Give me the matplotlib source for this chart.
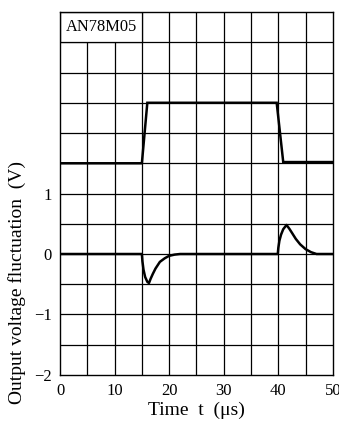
import numpy as np
import matplotlib
matplotlib.use("Agg")
import matplotlib.pyplot as plt
from matplotlib.patches import Rectangle

plt.rcParams['font.family'] = ['Liberation Serif', 'DejaVu Serif']

# input step (upper trace)
step_t = [0, 15, 16, 39.7, 40.9, 50]
step_v = [1.5, 1.5, 2.5, 2.5, 1.52, 1.52]

# output voltage fluctuation (lower trace)
out_t = [0, 15, 15.1, 15.3, 15.6, 16.0, 16.3, 16.6, 17.0, 17.5, 18.3, 19.2, 20.0, 21.0, 22.0,
         39.9, 40.0, 40.2, 40.5, 40.9, 41.5, 42.0, 42.5, 43.2, 44.0, 45.0, 46.0, 47.0, 50]
out_v = [0, 0, -0.12, -0.26, -0.38, -0.46, -0.48, -0.41, -0.33, -0.24, -0.13, -0.07, -0.03, -0.01, 0,
         0, 0.1, 0.22, 0.32, 0.41, 0.48, 0.42, 0.35, 0.25, 0.16, 0.08, 0.03, 0.0, 0]

x_ticks = [0, 10, 20, 30, 40, 50]
y_labels = {-2: "\u22122", -1: "\u22121", 0: "0", 1: "1"}

fig = plt.figure(figsize=(3.39, 4.24), dpi=100)
ax = fig.add_axes([0.177, 0.1156, 0.805, 0.856])

ax.set_xlim(0, 50)
ax.set_ylim(-2, 4)

# grid every 5 us and 0.5 V
for t in np.arange(5, 50, 5):
    ax.axvline(t, color='black', lw=0.9, zorder=1)
for v in np.arange(-1.5, 4, 0.5):
    ax.axhline(v, color='black', lw=0.9, zorder=1)

# label box in the top-left cell
ax.add_patch(Rectangle((0, 3.5), 15, 0.5, facecolor='white', edgecolor='black', lw=0.9, zorder=2))
ax.text(1.0, 3.75, "AN78M05", va='center', ha='left', fontsize=11.8, zorder=3)

ax.plot(step_t, step_v, color='black', lw=1.8, zorder=4, solid_joinstyle='miter')
ax.plot(out_t, out_v, color='black', lw=1.8, zorder=4)

ax.set_xticks(x_ticks)
ax.set_xticklabels([str(x) for x in x_ticks], fontsize=12)
ax.set_yticks(list(y_labels.keys()))
ax.set_yticklabels(list(y_labels.values()), fontsize=12)
ax.tick_params(length=0, pad=6)

for s in ax.spines.values():
    s.set_linewidth(1.0)

ax.set_xlabel("Time  t  (\u03bcs)", fontsize=14, labelpad=2)
fig.text(0.05, (424 - 282) / 424, "Output voltage fluctuation  (V)", rotation=90,
         va='center', ha='center', fontsize=14)

fig.savefig("out.png", dpi=100)
